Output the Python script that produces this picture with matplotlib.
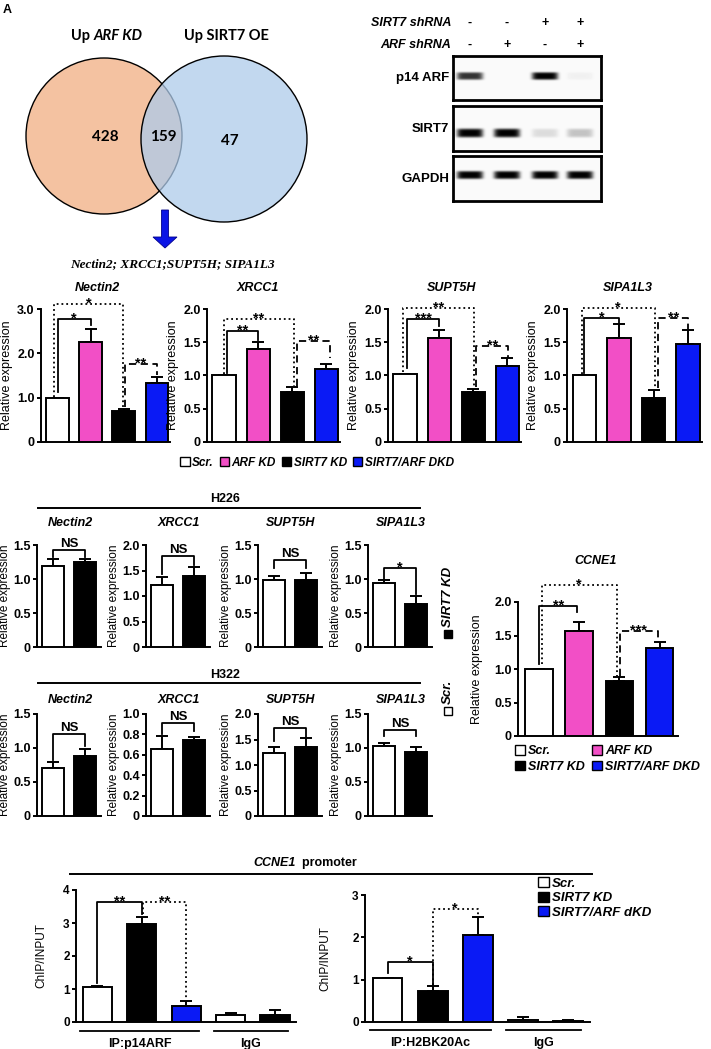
import numpy as np
import matplotlib
matplotlib.use("Agg")
import matplotlib.pyplot as plt
from matplotlib.patches import Patch, Circle, Rectangle
from matplotlib.ticker import FuncFormatter

plt.rcParams['font.family'] = ['Liberation Sans', 'DejaVu Sans']
plt.rcParams['font.weight'] = 'bold'
plt.rcParams['axes.linewidth'] = 1.4

W, H = 711, 1049
PINK = '#f24fc6'
BLUE = '#0a1af5'

# ---- data ----
venn_labels = ["Up ", "ARF KD", "Up SIRT7 OE"]
venn_counts = [428, 159, 47]
venn_genes = "Nectin2; XRCC1;SUPT5H; SIPA1L3"

sirt7_shrna = ["-", "-", "+", "+"]
arf_shrna = ["-", "+", "-", "+"]
blot_names = ["p14 ARF", "SIRT7", "GAPDH"]
p14_band = [0.8, 0.0, 1.0, 0.04]
sirt7_band = [1.0, 1.0, 0.12, 0.22]
gapdh_band = [1.0, 1.0, 1.0, 1.0]

groups4 = ["Scr.", "ARF KD", "SIRT7 KD", "SIRT7/ARF DKD"]
colors4 = ["white", PINK, "black", BLUE]
genes = ["Nectin2", "XRCC1", "SUPT5H", "SIPA1L3"]

nectin2_mean = [1.0, 2.25, 0.70, 1.34]
nectin2_err = [0.0, 0.29, 0.05, 0.13]
xrcc1_mean = [1.0, 1.40, 0.75, 1.10]
xrcc1_err = [0.01, 0.11, 0.07, 0.08]
supt5h_mean = [1.02, 1.56, 0.75, 1.14]
supt5h_err = [0.0, 0.13, 0.05, 0.12]
sipa1l3_mean = [1.0, 1.56, 0.66, 1.47]
sipa1l3_err = [0.0, 0.21, 0.12, 0.22]

groups2 = ["Scr.", "SIRT7 KD"]
colors2 = ["white", "black"]
h226_mean = [[1.19, 1.25], [1.22, 1.40], [0.99, 0.99], [0.94, 0.63]]
h226_err = [[0.10, 0.05], [0.16, 0.16], [0.06, 0.10], [0.04, 0.12]]
h322_mean = [[0.71, 0.88], [0.66, 0.745], [1.23, 1.35], [1.03, 0.94]]
h322_err = [[0.09, 0.11], [0.12, 0.03], [0.12, 0.18], [0.04, 0.07]]

ccne1_mean = [1.0, 1.565, 0.82, 1.31]
ccne1_err = [0.0, 0.135, 0.06, 0.09]

chip_groups = ["Scr.", "SIRT7 KD", "SIRT7/ARF dKD"]
chip_colors = ["white", "black", BLUE, "white", "black"]
p14arf_chip = [1.05, 2.97, 0.48, 0.20, 0.22]
p14arf_err = [0.04, 0.21, 0.16, 0.06, 0.13]
h2bk20_chip = [1.03, 0.73, 2.05, 0.05, 0.03]
h2bk20_err = [0.0, 0.12, 0.43, 0.06, 0.01]

DASH = (0, (4, 2.5))
# brackets: x1, x2, top, left leg end, right leg end, label, style
row1_brackets = [
    [(0, 1, 2.77, 1.13, 2.65, '*', '-'), (-0.1, 1.97, 3.11, 1.02, 0.79, '*', ':'),
     (2.05, 3.0, 1.75, 0.79, 1.52, '**', DASH)],
    [(0.1, 1.0, 1.665, 1.04, 1.53, '**', '-'), (0.0, 2.05, 1.85, 1.03, 0.84, '**', ':'),
     (2.15, 3.1, 1.52, 0.84, 1.27, '**', DASH)],
    [(0.07, 1.0, 1.85, 1.12, 1.75, '***', '-'), (-0.05, 2.02, 2.02, 1.05, 0.82, '**', ':'),
     (2.09, 3.03, 1.45, 0.82, 1.27, '**', DASH)],
    [(0.0, 1.0, 1.86, 1.04, 1.78, '*', '-'), (-0.08, 2.04, 2.02, 1.02, 0.81, '*', ':'),
     (2.14, 3.0, 1.86, 0.81, 1.70, '**', DASH)],
]
h226_brackets = [(0, 1, 1.43, 1.32, 1.32, 'NS', '-'), (0, 1, 1.79, 1.44, 1.60, 'NS', '-'),
                 (0, 1, 1.28, 1.16, 1.16, 'NS', '-'), (0, 1, 1.165, 1.0, 0.78, '*', '-')]
h322_brackets = [(0, 1, 1.21, 0.83, 1.03, 'NS', '-'), (0, 1, 0.91, 0.80, 0.83, 'NS', '-'),
                 (0, 1, 1.73, 1.47, 1.55, 'NS', '-'), (0, 1, 1.27, 1.17, 1.17, 'NS', '-')]
ccne1_brackets = [(0, 0.96, 1.94, 1.08, 1.85, '**', '-'), (0.07, 1.94, 2.25, 1.07, 0.9, '*', ':'),
                  (2.01, 2.96, 1.56, 0.9, 1.44, '***', DASH)]
p14_brackets = [(0, 1, 3.63, 1.18, 3.27, '**', '-'), (1.02, 2, 3.63, 3.27, 0.68, '**', ':')]
h2b_brackets = [(0, 1, 1.41, 1.15, 0.87, '*', '-'), (1, 2, 2.68, 0.87, 2.48, '*', ':')]


def px_rect(l, t, r, b):
    return [l / W, 1 - b / H, (r - l) / W, (b - t) / H]


def dec_fmt(v, _):
    return '0' if abs(v) < 1e-9 else f'{v:.1f}'


def int_fmt(v, _):
    return f'{v:.0f}'


def bar_panel(rect, means, errs, colors, ylim, yticks, xlim, width, ylabel,
              labelpad=3, fs=9, fmt=dec_fmt, lfs=None):
    ax = fig.add_axes(px_rect(*rect))
    ax.patch.set_visible(False)
    x = np.arange(len(means))
    ax.errorbar(x, means, yerr=[np.zeros(len(means)), errs], fmt='none', ecolor='k',
                elinewidth=1.4, capsize=4, capthick=1.4, zorder=2)
    ax.bar(x, means, width=width, color=colors, edgecolor='k', linewidth=1.4, zorder=3)
    ax.set_xlim(*xlim)
    ax.set_ylim(*ylim)
    ax.set_yticks(yticks)
    ax.yaxis.set_major_formatter(FuncFormatter(fmt))
    ax.set_xticks([])
    for s in ['top', 'right']:
        ax.spines[s].set_visible(False)
    ax.tick_params(axis='y', direction='out', length=3, width=1.4, labelsize=fs, pad=1.5)
    ax.set_ylabel(ylabel, fontsize=lfs or fs, labelpad=labelpad)
    return ax


def brackets(ax, specs, fs=10.5):
    for i, j, top, lb, rb, lab, ls in specs:
        ax.plot([i, i, j, j], [lb, top, top, rb], color='k', lw=1.3, ls=ls,
                clip_on=False, zorder=4)
        if '*' in lab:
            ax.annotate(lab, xy=((i + j) / 2, top), xytext=(0, -2.5), textcoords='offset points',
                        ha='center', va='baseline', fontsize=fs, annotation_clip=False)
        else:
            ax.annotate(lab, xy=((i + j) / 2, top), xytext=(0, 0), textcoords='offset points',
                        ha='center', va='bottom', fontsize=9.5, annotation_clip=False)


fig = plt.figure(figsize=(W / 100, H / 100), dpi=100)
ov = fig.add_axes([0, 0, 1, 1])
ov.set_xlim(0, W)
ov.set_ylim(H, 0)
ov.axis('off')

ov.text(7, 10, "A", fontsize=9, ha='center', va='center')

# ---- Venn ----
ov.add_patch(Circle((104, 136), 78, facecolor='#f4c2a1', edgecolor='k', lw=1.0))
ov.add_patch(Circle((224, 139), 83, facecolor='#aecbea', alpha=0.75, edgecolor='none'))
ov.add_patch(Circle((224, 139), 83, facecolor='none', edgecolor='k', lw=1.0))
t1 = ov.text(71, 36, venn_labels[0], family='Lato', fontsize=10.5, ha='left', va='center')
ov.annotate(venn_labels[1], xy=(1, 0), xycoords=t1, va='bottom', ha='left',
            family='Lato', fontsize=10.5, style='italic')
ov.text(226, 36, venn_labels[2], family='Lato', fontsize=10.5, ha='center', va='center')
for (cx, cy), n in zip([(105, 137), (163, 137), (230, 141)], venn_counts):
    ov.text(cx, cy, str(n), family='Lato', fontsize=11, ha='center', va='center')
ov.arrow(165, 210, 0, 38, width=7, head_width=24, head_length=11,
         length_includes_head=True, facecolor='#0a14e6', edgecolor='#00008a', lw=0.6)
ov.text(172, 264, venn_genes, family='Liberation Serif', style='italic', fontsize=9.5,
        ha='center', va='center')

# ---- Western blot ----
lane_x = [17, 54, 92, 127]
blot_rects = [(453, 56, 601, 100), (453, 106, 601, 151), (453, 156, 601, 201)]
blot_yc = [20, 27, 19]
blot_hh = [3.8, 4.4, 4.0]
for rect, bands, yc, hh, name in zip(blot_rects, [p14_band, sirt7_band, gapdh_band],
                                     blot_yc, blot_hh, blot_names):
    ax = fig.add_axes(px_rect(*rect))
    w = rect[2] - rect[0]
    h = rect[3] - rect[1]
    xx, yy = np.meshgrid(np.arange(w) + 0.5, np.arange(h) + 0.5)
    dark = np.zeros((h, w))
    for xc, b in zip(lane_x, bands):
        dark += b * np.exp(-((xx - xc) / 13) ** 6) * np.exp(-((yy - yc) / hh) ** 4)
    img = 0.98 - 0.98 * np.clip(dark, 0, 1)
    ax.imshow(img, cmap='gray', vmin=0, vmax=1, extent=(0, w, h, 0), aspect='auto',
              interpolation='bilinear')
    ax.set_xticks([])
    ax.set_yticks([])
    for s in ax.spines.values():
        s.set_linewidth(2)
    ov.text(449, (rect[1] + rect[3]) / 2, name, fontsize=9.5, ha='right', va='center')
ov.text(451, 23, "SIRT7 shRNA", fontsize=9, style='italic', ha='right', va='center')
ov.text(451, 45, "ARF shRNA", fontsize=9, style='italic', ha='right', va='center')
for lx, s1, s2 in zip(lane_x, sirt7_shrna, arf_shrna):
    ov.text(453 + lx, 23, s1, fontsize=9, ha='center', va='center')
    ov.text(453 + lx, 45, s2, fontsize=9, ha='center', va='center')

# ---- row 1: A549 qPCR ----
row1_rects = [(41, 309, 170, 442), (207, 309, 340, 442), (388, 309, 521, 442), (567, 309, 702, 442)]
row1_means = [nectin2_mean, xrcc1_mean, supt5h_mean, sipa1l3_mean]
row1_errs = [nectin2_err, xrcc1_err, supt5h_err, sipa1l3_err]
row1_ylims = [(0, 3), (0, 2), (0, 2), (0, 2)]
row1_ticks = [[0, 1, 2, 3], [0, .5, 1, 1.5, 2], [0, .5, 1, 1.5, 2], [0, .5, 1, 1.5, 2]]
row1_title_x = [97, 258, 452, 628]
for k in range(4):
    ax = bar_panel(row1_rects[k], row1_means[k], row1_errs[k], colors4, row1_ylims[k],
                   row1_ticks[k], (-0.5, 3.4), 0.68, "Relative expression")
    brackets(ax, row1_brackets[k])
    ov.text(row1_title_x[k], 288, genes[k], fontsize=9, style='italic', ha='center', va='center')

fig.legend(handles=[Patch(facecolor=c, edgecolor='k', lw=1) for c in colors4], labels=groups4,
           loc='center', bbox_to_anchor=(317 / W, 1 - 463 / H), ncol=4, frameon=False,
           handlelength=0.8, handleheight=0.8, handletextpad=0.2, columnspacing=0.5,
           borderpad=0, prop={'size': 8.5, 'style': 'italic', 'weight': 'bold'})

# ---- H226 / H322 ----
h_left = [37, 146, 258, 368]
h226_ylims = [(0, 1.5), (0, 2), (0, 1.5), (0, 1.5)]
h226_ticks = [[0, .5, 1, 1.5], [0, .5, 1, 1.5, 2], [0, .5, 1, 1.5], [0, .5, 1, 1.5]]
h322_ylims = [(0, 1.5), (0, 1.0), (0, 2), (0, 1.5)]
h322_ticks = [[0, .5, 1, 1.5], [0, .2, .4, .6, .8, 1.0], [0, .5, 1, 1.5, 2], [0, .5, 1, 1.5]]
for line, top, bottom, means, errs, ylims, ticks, brs, label_y, line_y, title_y in [
        ("H226", 545, 647, h226_mean, h226_err, h226_ylims, h226_ticks, h226_brackets, 499, 508, 523),
        ("H322", 714, 816, h322_mean, h322_err, h322_ylims, h322_ticks, h322_brackets, 675, 683, 700)]:
    ov.text(225, label_y, line, fontsize=9, ha='center', va='center')
    ov.plot([38, 420], [line_y, line_y], color='k', lw=1.4)
    for k in range(4):
        ax = bar_panel((h_left[k], top, h_left[k] + 64, bottom), means[k], errs[k], colors2,
                       ylims[k], ticks[k], (-0.5, 1.5), 0.68, "Relative expression",
                       labelpad=1.5, lfs=8.5)
        brackets(ax, [brs[k]])
        ov.text(h_left[k] + 33, title_y, genes[k], fontsize=9, style='italic',
                ha='center', va='center')

# rotated legend
ov.add_patch(Rectangle((444, 630), 8, 8, facecolor='black', edgecolor='k', lw=1))
ov.text(448, 627, groups2[1], rotation=90, fontsize=9.5, style='italic', ha='center', va='bottom')
ov.add_patch(Rectangle((444, 707), 8, 8, facecolor='white', edgecolor='k', lw=1))
ov.text(448, 704, groups2[0], rotation=90, fontsize=9.5, style='italic', ha='center', va='bottom')

# ---- CCNE1 ----
ax = bar_panel((518, 602, 678, 736), ccne1_mean, ccne1_err, colors4, (0, 2),
               [0, .5, 1, 1.5, 2], (-0.52, 3.46), 0.68, "Relative expression", labelpad=8)
brackets(ax, ccne1_brackets)
ov.text(596, 561, "CCNE1", fontsize=9, style='italic', ha='center', va='center')
order = [0, 2, 1, 3]
fig.legend(handles=[Patch(facecolor=colors4[i], edgecolor='k', lw=1) for i in order],
           labels=[groups4[i] for i in order], loc='upper left',
           bbox_to_anchor=(515 / W, 1 - 745 / H), ncol=2, frameon=False,
           handlelength=0.8, handleheight=0.8, handletextpad=0.25, columnspacing=0.55,
           labelspacing=0.3, borderpad=0, borderaxespad=0,
           prop={'size': 9, 'style': 'italic', 'weight': 'bold'})

# ---- ChIP ----
t2 = ov.text(253, 863, "CCNE1", fontsize=9, style='italic', ha='left', va='center')
ov.annotate("  promoter", xy=(1, 0), xycoords=t2, va='bottom', ha='left', fontsize=9)
ov.plot([70, 592], [874, 874], color='k', lw=1.4)

chip_sets = [((76, 890, 296, 1022), p14arf_chip, p14arf_err, (0, 4), [0, 1, 2, 3, 4],
              (-0.48, 4.47), p14_brackets, ["IP:p14ARF", "IgG"], 11),
             ((365, 895, 590, 1022), h2bk20_chip, h2bk20_err, (0, 3), [0, 1, 2, 3],
              (-0.5, 4.49), h2b_brackets, ["IP:H2BK20Ac", "IgG"], 15)]
group_idx = [[0, 1, 2], [3, 4]]
for rect, vals, errs, ylim, ticks, xlim, brs, glabels, lp in chip_sets:
    ax = bar_panel(rect, vals, errs, chip_colors, ylim, ticks, xlim, 0.66, "ChIP/INPUT",
                   labelpad=lp, fs=8.5, fmt=int_fmt)
    brackets(ax, brs)
    tr = ax.get_xaxis_transform()
    for gi, gl in zip(group_idx, glabels):
        ax.plot([gi[0] - 0.38, gi[-1] + 0.29], [-0.066, -0.066], color='k', lw=1.3,
                transform=tr, clip_on=False)
        ax.text((gi[0] - 0.38 + gi[-1] + 0.29) / 2, -0.165, gl, transform=tr, fontsize=9,
                ha='center', va='center')

fig.legend(handles=[Patch(facecolor=c, edgecolor='k', lw=1) for c in chip_colors[:3]],
           labels=chip_groups, loc='upper left', bbox_to_anchor=(538 / W, 1 - 877 / H),
           ncol=1, frameon=False, handlelength=0.8, handleheight=0.8, handletextpad=0.25,
           labelspacing=0.15, borderpad=0, borderaxespad=0,
           prop={'size': 9.5, 'style': 'italic', 'weight': 'bold'})

fig.savefig("out.png", dpi=100)
